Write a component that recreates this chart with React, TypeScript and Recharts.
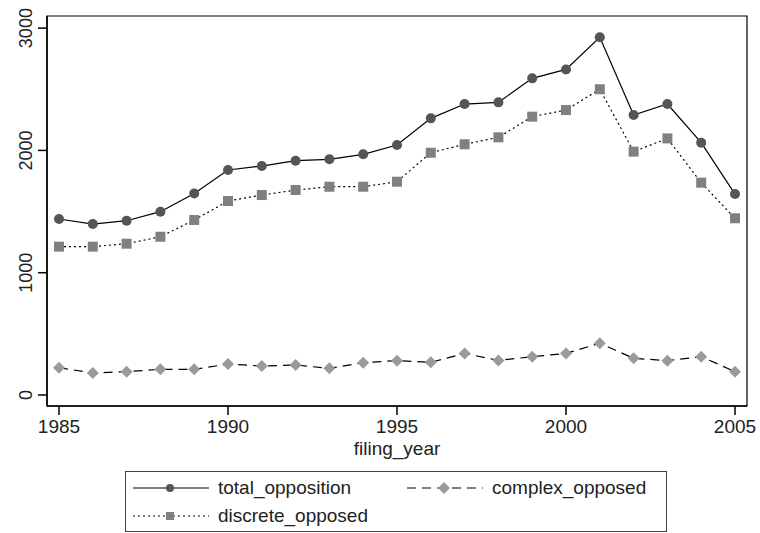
import { LineChart, Line, XAxis, YAxis, ReferenceArea, Legend } from 'recharts'

const years = [1985, 1986, 1987, 1988, 1989, 1990, 1991, 1992, 1993, 1994, 1995, 1996, 1997, 1998, 1999, 2000, 2001, 2002, 2003, 2004, 2005]
const totalOpposition = [1439, 1398, 1425, 1499, 1648, 1840, 1872, 1916, 1927, 1968, 2044, 2262, 2379, 2393, 2589, 2662, 2925, 2289, 2379, 2063, 1643]
const complexOpposed = [223, 180, 191, 210, 210, 253, 237, 245, 218, 264, 281, 267, 340, 283, 313, 340, 423, 300, 281, 313, 191]
const discreteOpposed = [1213, 1213, 1237, 1294, 1431, 1586, 1635, 1676, 1703, 1703, 1744, 1981, 2050, 2107, 2276, 2330, 2500, 1990, 2098, 1736, 1445]

const xTicks = [1985, 1990, 1995, 2000, 2005]
const yTicks = [0, 1000, 2000, 3000]
const xDomain = [1984.645, 2005.355]
const yDomain = [-90, 3099]

const data = years.map((y, i) => ({
  filing_year: y,
  total_opposition: totalOpposition[i],
  complex_opposed: complexOpposed[i],
  discrete_opposed: discreteOpposed[i],
}))

const FONT = '"Liberation Sans", Arial, sans-serif'

const CircleDot = (p: any) => <circle key={p.index} cx={p.cx} cy={p.cy} r={5} fill="#555" />
const SquareDot = (p: any) => <rect key={p.index} x={p.cx - 5} y={p.cy - 5} width={10} height={10} fill="#808080" />
const DiamondDot = (p: any) => (
  <polygon
    key={p.index}
    points={`${p.cx},${p.cy - 6} ${p.cx + 6},${p.cy} ${p.cx},${p.cy + 6} ${p.cx - 6},${p.cy}`}
    fill="#9a9a9a"
  />
)

function YTick(props: any) {
  const { x, y, payload } = props
  return (
    <text
      x={x}
      y={y}
      transform={`rotate(-90 ${x} ${y})`}
      textAnchor="middle"
      fontSize={18}
      fontFamily={FONT}
      fill="#222"
    >
      {payload.value}
    </text>
  )
}

function Sample({ kind }: { kind: string }) {
  return (
    <svg width={76} height={14} style={{ display: 'block' }}>
      {kind === 'total' && (
        <>
          <line x1={0} y1={7} x2={76} y2={7} stroke="#000" strokeWidth={1.2} />
          <circle cx={37} cy={7} r={4} fill="#555" />
        </>
      )}
      {kind === 'discrete' && (
        <>
          <line x1={0} y1={7} x2={76} y2={7} stroke="#000" strokeWidth={1.2} strokeDasharray="2 3" />
          <rect x={33} y={3} width={8} height={8} fill="#808080" />
        </>
      )}
      {kind === 'complex' && (
        <>
          <line x1={0} y1={7} x2={76} y2={7} stroke="#000" strokeWidth={1.2} strokeDasharray="9 6" />
          <polygon points="37,1 43,7 37,13 31,7" fill="#9a9a9a" />
        </>
      )}
    </svg>
  )
}

function LegendBox() {
  const item = (kind: string, label: string, left: number, top: number) => (
    <div style={{ position: 'absolute', left, top, display: 'flex', alignItems: 'center' }}>
      <Sample kind={kind} />
      <span style={{ marginLeft: 9, fontSize: 19, fontFamily: FONT, color: '#222', lineHeight: '20px' }}>{label}</span>
    </div>
  )
  return (
    <div style={{ position: 'relative', width: 542, height: 61, border: '1px solid #444', boxSizing: 'border-box' }}>
      {item('total', 'total_opposition', 7, 6)}
      {item('complex', 'complex_opposed', 281, 6)}
      {item('discrete', 'discrete_opposed', 7, 34)}
    </div>
  )
}

export default function App() {
  return (
    <div style={{ position: 'absolute', left: 0, top: 0, background: '#fff' }}>
      <LineChart width={760} height={533} data={data} margin={{ top: 16, right: 13, bottom: 1, left: 0 }}>
        <XAxis
          dataKey="filing_year"
          type="number"
          domain={xDomain}
          ticks={xTicks}
          allowDataOverflow
          height={65}
          tickSize={9}
          tickMargin={5}
          stroke="#000"
          strokeWidth={1.5}
          tick={{ fontSize: 19, fontFamily: FONT, fill: '#222' }}
          label={{ value: 'filing_year', position: 'insideBottom', offset: 16, fontSize: 19, fontFamily: FONT, fill: '#222' }}
        />
        <YAxis
          type="number"
          domain={yDomain}
          ticks={yTicks}
          allowDataOverflow
          width={47}
          tickSize={9}
          tickMargin={6}
          stroke="#000"
          strokeWidth={1.5}
          tick={<YTick />}
        />
        <ReferenceArea
          x1={xDomain[0]}
          x2={xDomain[1]}
          y1={yDomain[0]}
          y2={yDomain[1]}
          fill="none"
          stroke="#000"
          strokeWidth={1.2}
          fillOpacity={0}
        />
        <Line
          dataKey="total_opposition"
          stroke="#000"
          strokeWidth={1.2}
          dot={CircleDot}
          activeDot={false}
          isAnimationActive={false}
        />
        <Line
          dataKey="complex_opposed"
          stroke="#000"
          strokeWidth={1.2}
          strokeDasharray="9 6"
          dot={DiamondDot}
          activeDot={false}
          isAnimationActive={false}
        />
        <Line
          dataKey="discrete_opposed"
          stroke="#000"
          strokeWidth={1.2}
          strokeDasharray="2 3"
          dot={SquareDot}
          activeDot={false}
          isAnimationActive={false}
        />
        <Legend
          verticalAlign="bottom"
          content={() => <LegendBox />}
          wrapperStyle={{ left: 125, width: 542, height: 61 }}
        />
      </LineChart>
    </div>
  )
}
